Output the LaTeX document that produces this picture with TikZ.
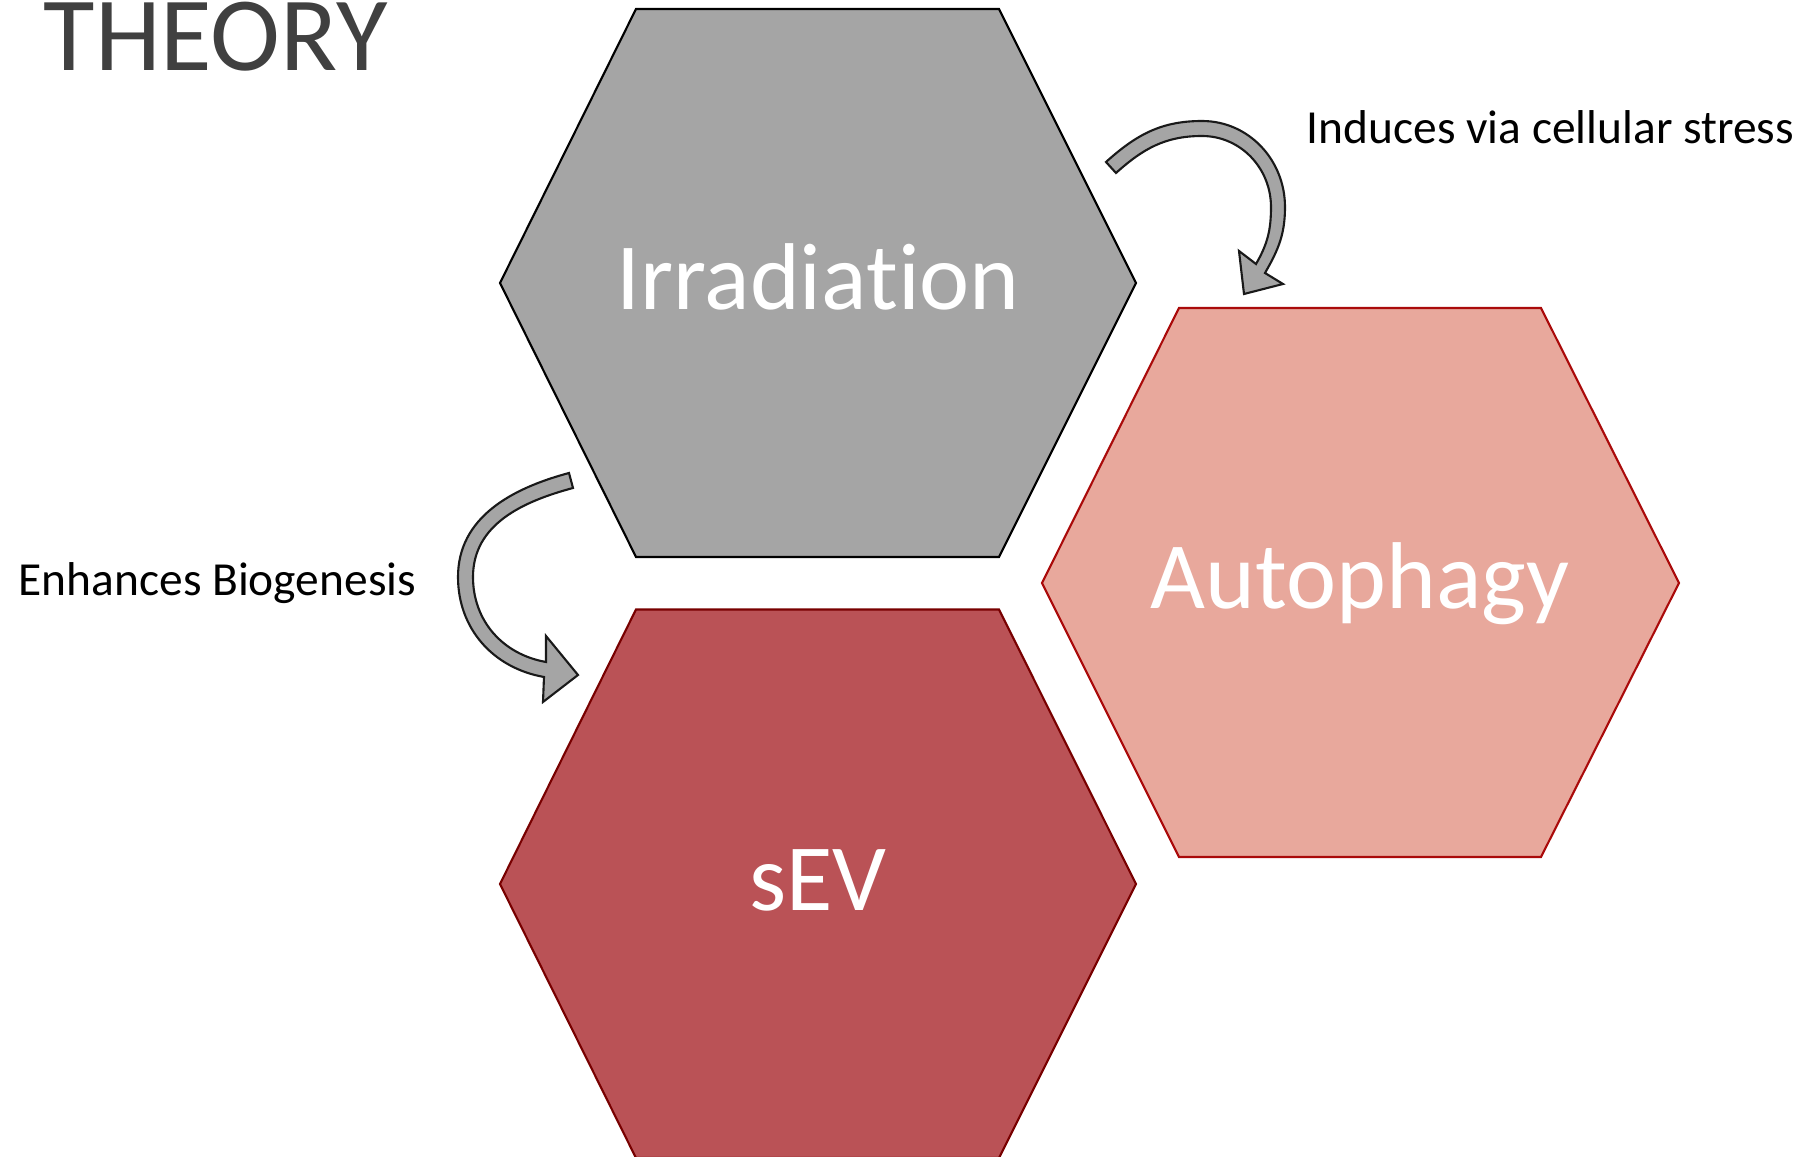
\documentclass[tikz,border=0pt]{standalone}
\usepackage{fontspec}
\setmainfont{Carlito}[Ligatures={NoCommon}]
\usetikzlibrary{positioning}

\definecolor{irr_fill}{RGB}{165,165,165}
\definecolor{auto_fill}{RGB}{232,168,156}
\definecolor{auto_line}{RGB}{170,10,10}
\definecolor{sev_fill}{RGB}{186,82,86}
\definecolor{sev_line}{RGB}{120,0,0}
\definecolor{title_grey}{RGB}{64,64,64}

\tikzset{
    cell/.style={line width=0.6pt,line join=miter},
    celltext/.style={anchor=base,inner sep=0pt,text=white,font=\fontsize{27}{31}\selectfont},
    note/.style={anchor=base west,inner sep=0pt,font=\fontsize{13.5}{16}\selectfont},
    bentarrow/.style={draw=black!90,fill=irr_fill,line width=0.6pt,line join=miter}
}

\begin{document}
\begin{tikzpicture}
    \useasboundingbox (0,0) rectangle (18.03,11.57);
    % hexagons
    \draw[cell,draw=black,fill=irr_fill] (5.00,8.74) to (6.36,11.48) to (9.99,11.48) to (11.36,8.74) to (9.99,6.00) to (6.36,6.00) to cycle;
    \draw[cell,draw=auto_line,fill=auto_fill] (10.42,5.74) to (11.79,8.49) to (15.41,8.49) to (16.79,5.74) to (15.41,3.00) to (11.79,3.00) to cycle;
    \draw[cell,draw=sev_line,fill=sev_fill] (5.00,2.73) to (6.36,5.475) to (9.99,5.475) to (11.36,2.73) to (9.99,-0.01) to (6.36,-0.01) to cycle;
    \node[celltext] (irr) at (8.18,8.47) {Irradiation};
    \node[celltext] (auto) at (13.60,5.48) {Autophagy};
    \node[celltext] (sev) at (8.18,2.46) {sEV};
    % bent arrows
    \draw[bentarrow] (11.06,9.95) to[out=42,in=180] (12.02,10.36) to[out=0,in=90] (12.85,9.50) to[out=-90,in=60] (12.65,8.84)
        -- (12.83,8.73) -- (12.44,8.63) -- (12.39,9.06) -- (12.56,8.93)
        to[out=60,in=-90] (12.71,9.50) to[out=90,in=0] (12.02,10.21) to[out=180,in=42] (11.16,9.84) -- cycle;
    \draw[bentarrow] (5.69,6.84) to[out=195,in=90] (4.58,5.80) to[out=-90,in=170] (5.44,4.80)
        -- (5.43,4.55) -- (5.78,4.82) -- (5.46,5.21) -- (5.46,4.95)
        to[out=170,in=-90] (4.73,5.80) to[out=90,in=195] (5.73,6.69) -- cycle;
    % labels
    \node[anchor=base west,inner sep=0pt,text=title_grey,font=\fontsize{30}{36}\selectfont] (title) at (0.43,10.86) {THEORY};
    \node[note] (stress) at (13.06,10.13) {Induces via cellular stress};
    \node[note] (biogen) at (0.18,5.61) {Enhances Biogenesis};
\end{tikzpicture}
\end{document}
